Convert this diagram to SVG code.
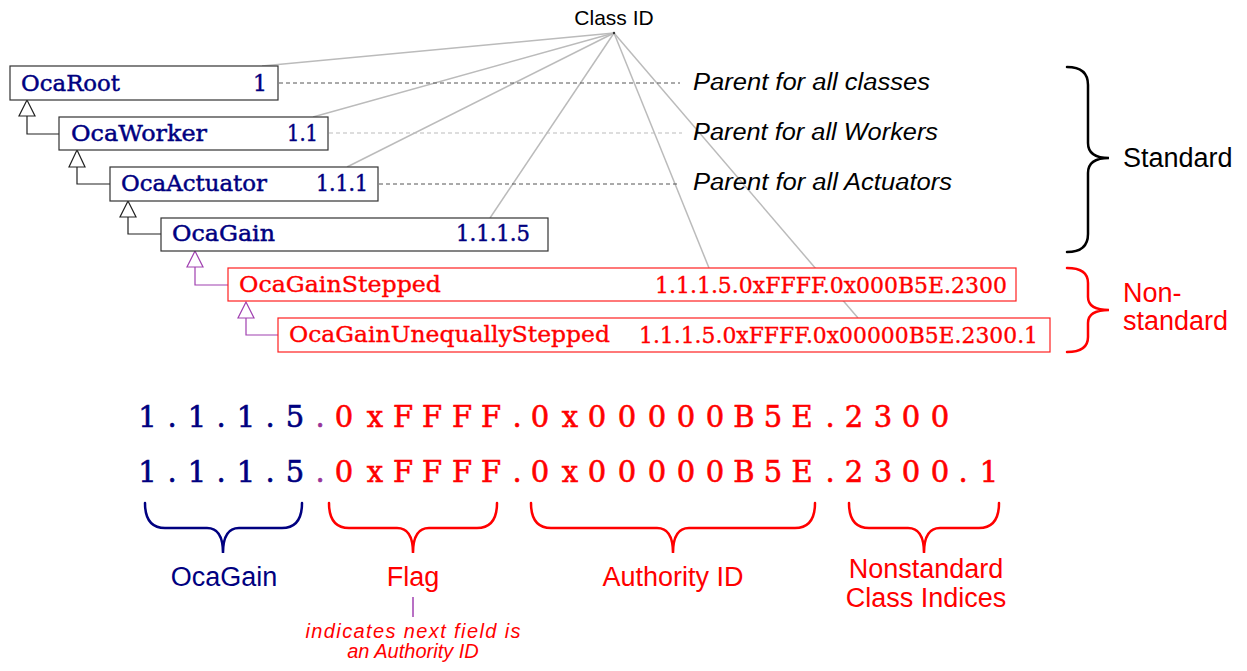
<svg xmlns="http://www.w3.org/2000/svg" width="1247" height="671" viewBox="0 0 1247 671">
  <defs>
    <style>
      .box { fill: #ffffff; stroke: #333333; stroke-width: 1.2; }
      .box-ns { fill: #ffffff; stroke: #ff2020; stroke-width: 1.2; }
      .lbl { font-family: "DejaVu Serif", "Liberation Serif", serif; font-size: 22px; fill: #000080; stroke: #000080; stroke-width: 0.45; }
      .lbl-ns { font-family: "DejaVu Serif", "Liberation Serif", serif; font-size: 22px; fill: #ff0000; stroke: #ff0000; stroke-width: 0.35; }
      .inh { fill: none; stroke: #222222; stroke-width: 1.2; }
      .inh-ns { fill: none; stroke: #a040b0; stroke-width: 1.2; }
      .tri { fill: #ffffff; stroke: #222222; stroke-width: 1.2; }
      .tri-ns { fill: #ffffff; stroke: #a040b0; stroke-width: 1.2; }
      .fan { stroke: #bbbbbb; stroke-width: 1.5; fill: none; }
      .dash { stroke: #555555; stroke-width: 1; stroke-dasharray: 4 3; fill: none; }
      .dash-lt { stroke: #bbbbbb; stroke-width: 1.2; stroke-dasharray: 4 3; fill: none; }
      .note { font-family: "Liberation Sans", Arial, sans-serif; font-style: italic; font-size: 23px; fill: #000000; }
      .sans { font-family: "Liberation Sans", Arial, sans-serif; fill: #000000; }
      .brace { fill: none; stroke: #000000; stroke-width: 2.5; stroke-linecap: round; }
      .brace-red { fill: none; stroke: #ff0000; stroke-width: 2.5; stroke-linecap: round; }
      .brace-blue { fill: none; stroke: #000080; stroke-width: 2.5; stroke-linecap: round; }
      .id { font-family: "DejaVu Serif", "Liberation Serif", serif; font-size: 29px; text-anchor: middle; stroke-width: 0.6; }
      .field { font-family: "Liberation Sans", Arial, sans-serif; font-size: 27px; text-anchor: middle; }
    </style>
  </defs>

  <!-- Class ID callout -->
  <text class="sans" x="614" y="25" font-size="21" text-anchor="middle">Class ID</text>

  <!-- connectors: fan from Class ID, dashed leaders, inheritance links -->
  <g id="connectors">
    <line class="fan" x1="614" y1="33" x2="262" y2="66"/>
    <line class="fan" x1="614" y1="33" x2="313" y2="117"/>
    <line class="fan" x1="614" y1="33" x2="347" y2="167"/>
    <line class="fan" x1="614" y1="33" x2="490" y2="218"/>
    <line class="fan" x1="614" y1="33" x2="709" y2="268"/>
    <line class="fan" x1="614" y1="33" x2="858" y2="318"/>
    <circle cx="614" cy="33" r="1.2" fill="#333333"/>

    <line class="dash" x1="279" y1="83" x2="680" y2="83"/>
    <line class="dash-lt" x1="329" y1="133" x2="682" y2="133"/>
    <line class="dash" x1="379" y1="184" x2="680" y2="184"/>

    <polyline class="inh" points="27,116 27,134 59,134"/>
    <polygon class="tri" points="27,100 19,116 35,116"/>
    <polyline class="inh" points="77,167 77,184 110,184"/>
    <polygon class="tri" points="77,150 69,167 85,167"/>
    <polyline class="inh" points="128,217 128,234 161,234"/>
    <polygon class="tri" points="128,201 120,217 136,217"/>
    <polyline class="inh-ns" points="195,267 195,285 228,285"/>
    <polygon class="tri-ns" points="195,251 187,267 203,267"/>
    <polyline class="inh-ns" points="246,318 246,335 278,335"/>
    <polygon class="tri-ns" points="246,302 238,318 254,318"/>
  </g>

  <!-- class nodes -->
  <g id="node-ocaroot">
    <rect class="box" x="10" y="66" width="268" height="34"/>
    <text class="lbl" x="21" y="91" textLength="99" lengthAdjust="spacingAndGlyphs">OcaRoot</text>
    <text class="lbl" x="267" y="91" text-anchor="end">1</text>
  </g>
  <g id="node-ocaworker">
    <rect class="box" x="59" y="117" width="269" height="33"/>
    <text class="lbl" x="71" y="141" textLength="136" lengthAdjust="spacingAndGlyphs">OcaWorker</text>
    <text class="lbl" x="287" y="141" textLength="31" lengthAdjust="spacingAndGlyphs">1.1</text>
  </g>
  <g id="node-ocaactuator">
    <rect class="box" x="110" y="167" width="268" height="34"/>
    <text class="lbl" x="121" y="191" textLength="146" lengthAdjust="spacingAndGlyphs">OcaActuator</text>
    <text class="lbl" x="316" y="191" textLength="52" lengthAdjust="spacingAndGlyphs">1.1.1</text>
  </g>
  <g id="node-ocagain">
    <rect class="box" x="161" y="218" width="387" height="33"/>
    <text class="lbl" x="172" y="241" textLength="103" lengthAdjust="spacingAndGlyphs">OcaGain</text>
    <text class="lbl" x="456" y="241" textLength="74" lengthAdjust="spacingAndGlyphs">1.1.1.5</text>
  </g>
  <g id="node-ocagainstepped">
    <rect class="box-ns" x="228" y="268" width="788" height="33"/>
    <text class="lbl-ns" x="239" y="292" textLength="202" lengthAdjust="spacingAndGlyphs">OcaGainStepped</text>
    <text class="lbl-ns" x="655" y="293" textLength="352" lengthAdjust="spacingAndGlyphs">1.1.1.5.0xFFFF.0x000B5E.2300</text>
  </g>
  <g id="node-ocagainunequallystepped">
    <rect class="box-ns" x="278" y="318" width="772" height="34"/>
    <text class="lbl-ns" x="289" y="342" textLength="321" lengthAdjust="spacingAndGlyphs">OcaGainUnequallyStepped</text>
    <text class="lbl-ns" x="639" y="343" textLength="399" lengthAdjust="spacingAndGlyphs">1.1.1.5.0xFFFF.0x00000B5E.2300.1</text>
  </g>

  <!-- descriptive notes -->
  <g id="notes">
    <text class="note" x="693" y="90" textLength="237" lengthAdjust="spacingAndGlyphs">Parent for all classes</text>
    <text class="note" x="693" y="140" textLength="245" lengthAdjust="spacingAndGlyphs">Parent for all Workers</text>
    <text class="note" x="693" y="190" textLength="259" lengthAdjust="spacingAndGlyphs">Parent for all Actuators</text>
  </g>

  <!-- right-hand grouping braces -->
  <g id="group-standard">
    <path class="brace" d="M1067,67 Q1088,67 1088,85 L1088,143 Q1088,158 1109,158 Q1088,158 1088,173 L1088,234 Q1088,252 1067,252"/>
    <text class="sans" x="1123" y="167" font-size="27">Standard</text>
  </g>
  <g id="group-nonstandard">
    <path class="brace-red" d="M1067,268 Q1088,268 1088,283 L1088,297 Q1088,310 1109,310 Q1088,310 1088,323 L1088,337 Q1088,352 1067,352"/>
    <text class="sans" x="1123" y="302" font-size="27" style="fill:#ff0000">Non-</text>
    <text class="sans" x="1123" y="330" font-size="27" style="fill:#ff0000">standard</text>
  </g>

  <!-- class ID breakdown -->
  <g id="id-rows">
    <text class="id" y="427"><tspan fill="#000080" stroke="#000080" x="147.5 172 197 221 246 270 295">1.1.1.5</tspan><tspan fill="#993399" stroke="#993399" x="320">.</tspan><tspan fill="#ff0000" stroke="#ff0000" x="344 375 403 432 462 491 517 540 570 597 627 657 686 715 744 773 802 830 854 883 911 940">0xFFFF.0x00000B5E.2300</tspan></text>
    <text class="id" y="482"><tspan fill="#000080" stroke="#000080" x="147.5 172 197 221 246 270 295">1.1.1.5</tspan><tspan fill="#993399" stroke="#993399" x="320">.</tspan><tspan fill="#ff0000" stroke="#ff0000" x="344 375 403 432 462 491 517 540 570 597 627 657 686 715 744 773 802 830 854 883 911 940 963 989">0xFFFF.0x00000B5E.2300.1</tspan></text>
  </g>

  <g id="field-ocagain">
    <path class="brace-blue" d="M145,503 Q145,528 165,528 L207,528 Q223,528 223,553 Q223,528 239,528 L282,528 Q302,528 302,503"/>
    <text class="field" x="224" y="586" fill="#000080">OcaGain</text>
  </g>
  <g id="field-flag">
    <path class="brace-red" d="M329,503 Q329,528 349,528 L397,528 Q413,528 413,553 Q413,528 429,528 L477,528 Q497,528 497,503"/>
    <text class="field" x="413" y="586" fill="#ff0000">Flag</text>
    <line x1="413" y1="597" x2="413" y2="617" stroke="#a040b0" stroke-width="1.5"/>
    <text class="sans" x="413" y="638" font-size="20" font-style="italic" text-anchor="middle" style="fill:#ff0000" textLength="215" lengthAdjust="spacing">indicates next field is</text>
    <text class="sans" x="413" y="658" font-size="20" font-style="italic" text-anchor="middle" style="fill:#ff0000">an Authority ID</text>
  </g>
  <g id="field-authority">
    <path class="brace-red" d="M531,503 Q531,528 551,528 L657,528 Q673,528 673,553 Q673,528 689,528 L795,528 Q815,528 815,503"/>
    <text class="field" x="673" y="586" fill="#ff0000">Authority ID</text>
  </g>
  <g id="field-indices">
    <path class="brace-red" d="M849,503 Q849,528 869,528 L908,528 Q924,528 924,553 Q924,528 940,528 L979,528 Q999,528 999,503"/>
    <text class="field" x="926" y="578" font-size="25" fill="#ff0000">Nonstandard</text>
    <text class="field" x="926" y="607" font-size="25" fill="#ff0000">Class Indices</text>
  </g>
</svg>
